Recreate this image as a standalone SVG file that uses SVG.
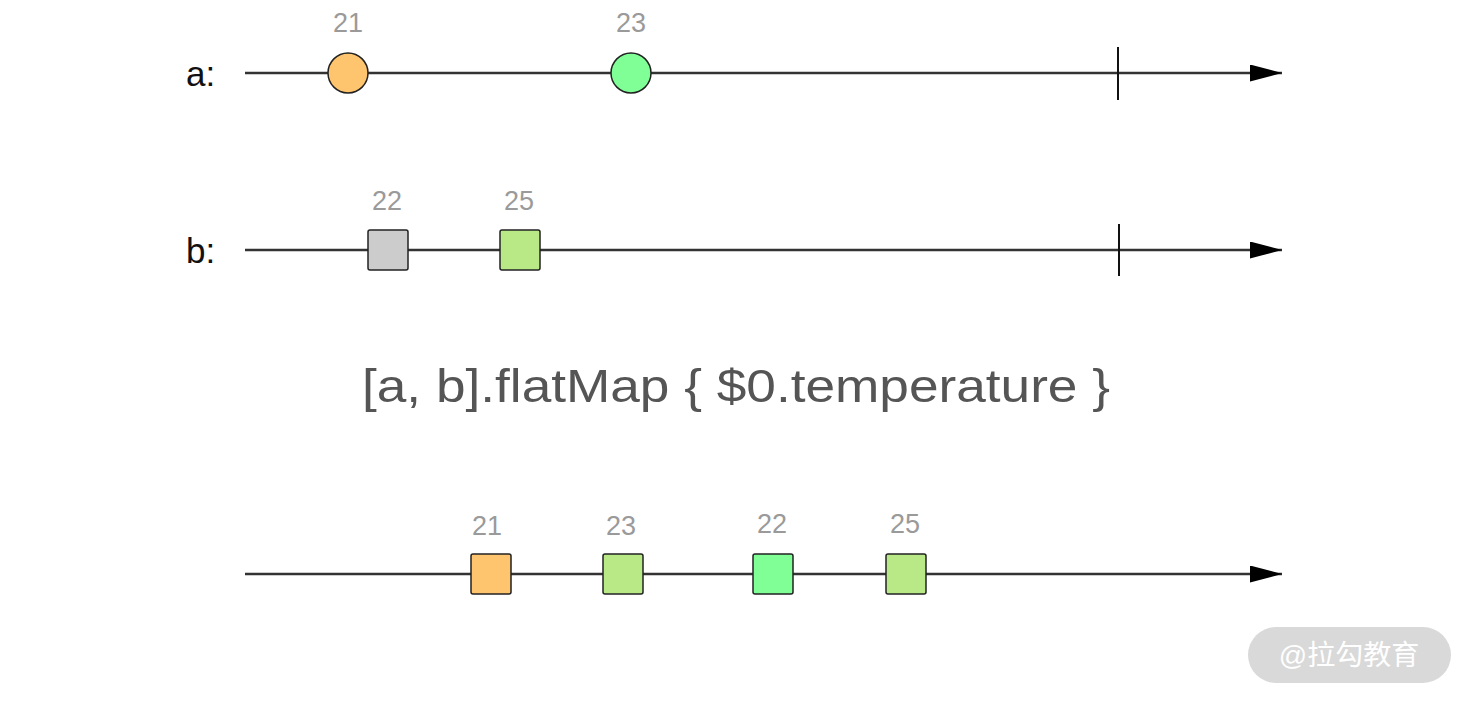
<svg xmlns="http://www.w3.org/2000/svg" width="1474" height="703" viewBox="0 0 1474 703">
<style>
.axis{stroke:#333;stroke-width:2.4;fill:none}
.tick{stroke:#111;stroke-width:2;}
.lbl{font-family:"Liberation Sans",Arial,sans-serif;font-size:27px;fill:#9a9a9a;text-anchor:middle}
.name{font-family:"Liberation Sans",Arial,sans-serif;font-size:35px;fill:#111}
.node{stroke:#222;stroke-width:1.5}
.title{font-family:"Liberation Sans",Arial,sans-serif;font-size:47px;fill:#555}
</style>
<defs>
<marker id="arr" markerWidth="32" markerHeight="17" refX="32" refY="8.5" orient="auto" markerUnits="userSpaceOnUse">
<path d="M0,0 L32,8.5 L0,17 Z" fill="#000"/>
</marker>
</defs>
<rect width="1474" height="703" fill="#fff"/>
<g id="connectors">
<line class="axis" x1="245" y1="73" x2="1282" y2="73" marker-end="url(#arr)"/>
<line class="tick" x1="1118" y1="47" x2="1118" y2="100"/>
<line class="axis" x1="245" y1="250" x2="1282" y2="250" marker-end="url(#arr)"/>
<line class="tick" x1="1119" y1="224" x2="1119" y2="276"/>
<line class="axis" x1="245" y1="574" x2="1282" y2="574" marker-end="url(#arr)"/>
</g>
<g id="label-a"><text class="name" x="186" y="86">a:</text></g>
<g id="label-b"><text class="name" x="186" y="263">b:</text></g>
<g id="a1"><circle class="node" cx="348" cy="73" r="20" fill="#FFC46E"/><text class="lbl" x="348" y="32">21</text></g>
<g id="a2"><circle class="node" cx="631" cy="73" r="20" fill="#7FFF95"/><text class="lbl" x="631" y="32">23</text></g>
<g id="b1"><rect class="node" x="368" y="230" width="40" height="40" rx="2" fill="#CCCCCC"/><text class="lbl" x="387" y="210">22</text></g>
<g id="b2"><rect class="node" x="500" y="230" width="40" height="40" rx="2" fill="#B8E986"/><text class="lbl" x="519" y="210">25</text></g>
<g id="title"><text class="title" x="362" y="402" textLength="748" lengthAdjust="spacingAndGlyphs">[a, b].flatMap { $0.temperature }</text></g>
<g id="c1"><rect class="node" x="471" y="554" width="40" height="40" rx="2" fill="#FFC46E"/><text class="lbl" x="487" y="535">21</text></g>
<g id="c2"><rect class="node" x="603" y="554" width="40" height="40" rx="2" fill="#B8E986"/><text class="lbl" x="621" y="535">23</text></g>
<g id="c3"><rect class="node" x="753" y="554" width="40" height="40" rx="2" fill="#7FFF95"/><text class="lbl" x="772" y="533">22</text></g>
<g id="c4"><rect class="node" x="886" y="554" width="40" height="40" rx="2" fill="#B8E986"/><text class="lbl" x="905" y="533">25</text></g>
<g id="watermark">
<rect x="1248" y="627" width="203" height="56" rx="28" fill="#d9d9d9"/>
<text x="1349" y="665" font-family="'Liberation Sans','Noto Sans CJK SC',sans-serif" font-size="28" fill="#fff" text-anchor="middle">@拉勾教育</text>
</g>
</svg>
